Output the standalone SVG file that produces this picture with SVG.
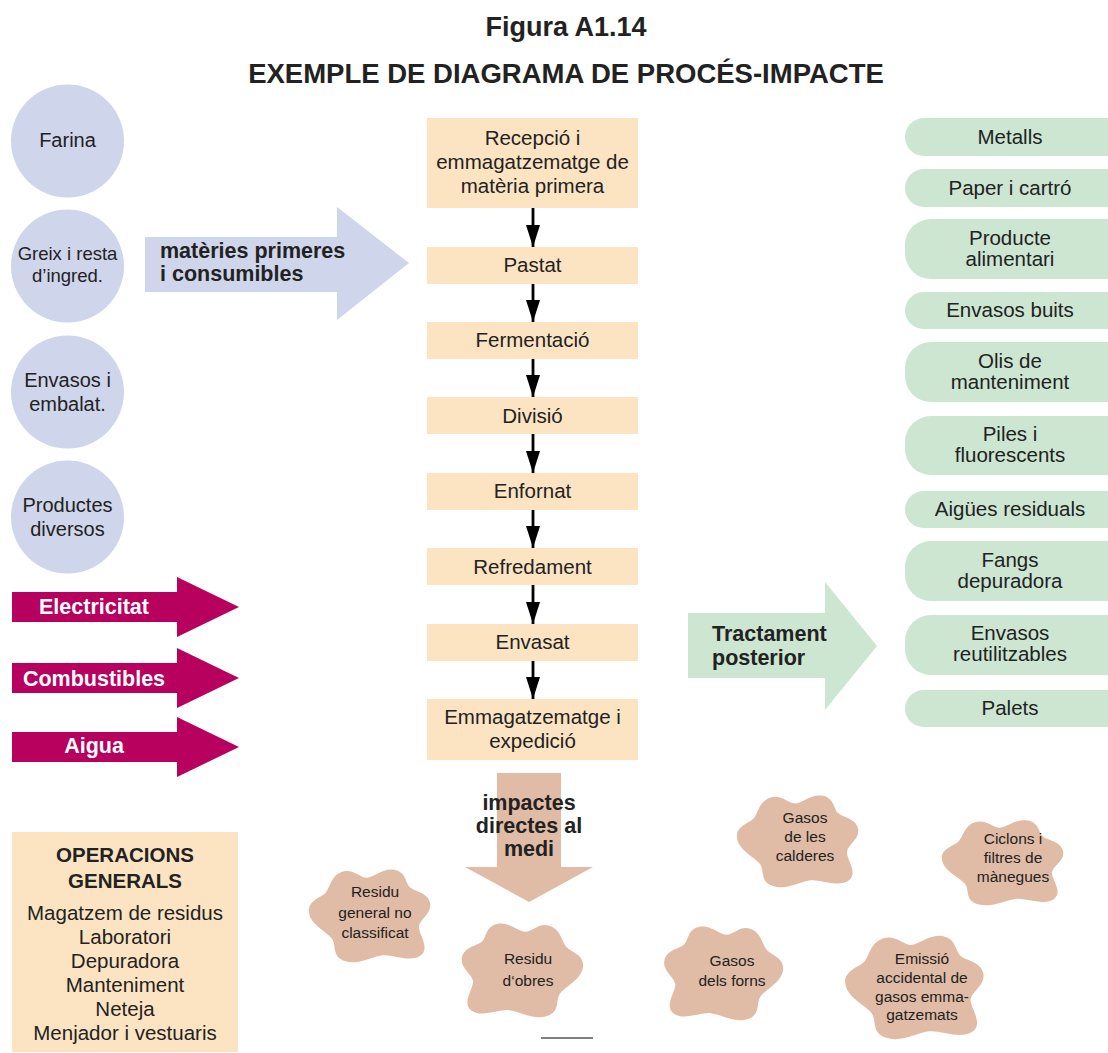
<svg xmlns="http://www.w3.org/2000/svg" xmlns:xlink="http://www.w3.org/1999/xlink" width="1108" height="1053" viewBox="0 0 1108 1053">
<style>
text{font-family:"Liberation Sans",Arial,sans-serif;fill:#222;text-anchor:middle}
.t{font-size:20.5px}
.c{font-size:20px}
.bb{font-size:21.5px;font-weight:bold}
.s{font-size:15.5px}
.w{fill:#fff}
.circ{fill:#CFD5EA}
.box{fill:#FCE4C2}
.pill{fill:#CCE6D1}
.blob{fill:#E0BBA5}
.mag{fill:#B8005F}
.con{stroke:#000;stroke-width:2.8;fill:none}
</style>
<defs>
<marker id="ah" markerWidth="22" markerHeight="14" refX="22" refY="7" orient="auto" markerUnits="userSpaceOnUse" viewBox="0 0 22 14">
<path d="M0,0 L22,7 L0,14 Z" fill="#000"/>
</marker>
<path id="blobshape" d="M35,6 C45.9,2 52.93,12.27 60,12 C67.07,11.73 76.53,1.33 88,4 C99.47,6.67 98.33,17.47 103,22 C107.67,26.53 120.6,27.33 123,38 C125.4,48.67 113.2,54.8 112,62 C110.8,69.2 123.6,84 114,92 C104.4,100 86.13,91.2 76,92 C65.87,92.8 51.6,102.53 38,98 C24.4,93.47 29.8,81.67 25,75 C20.2,68.33 3.6,60.8 2,48 C0.4,35.2 14.6,32.6 19,27 C23.4,21.4 24.1,10 35,6 Z"/>
</defs>

<text x="566" y="36" style="font-size:27px;font-weight:bold">Figura A1.14</text>
<text x="566" y="83" style="font-size:27.5px;font-weight:bold">EXEMPLE DE DIAGRAMA DE PROCÉS-IMPACTE</text>

<g id="farina"><circle cx="67.5" cy="141" r="56.5" class="circ"/><text x="67.5" y="147" class="c">Farina</text></g>
<g id="greix"><circle cx="67.5" cy="266" r="56.5" class="circ"/><text x="67.5" y="260" style="font-size:18.5px">Greix i resta</text><text x="67.5" y="282" style="font-size:18.5px">d’ingred.</text></g>
<g id="envasos-in"><circle cx="67.5" cy="392" r="56.5" class="circ"/><text x="67.5" y="387" class="c">Envasos i</text><text x="67.5" y="411" class="c">embalat.</text></g>
<g id="productes"><circle cx="67.5" cy="517" r="56.5" class="circ"/><text x="67.5" y="512" class="c">Productes</text><text x="67.5" y="536" class="c">diversos</text></g>

<g id="materies">
<path d="M145,237 H337 V207 L409,263 L337,320 V292 H145 Z" class="circ"/>
<text x="160" y="258" class="bb" style="text-anchor:start">matèries primeres</text>
<text x="160" y="281" class="bb" style="text-anchor:start">i consumibles</text>
</g>

<g id="electricitat"><path d="M12,592 H177 V577 L239,607 L177,637 V622 H12 Z" class="mag"/><text x="94" y="614" class="bb w">Electricitat</text></g>
<g id="combustibles"><path d="M12,663 H177 V648 L239,678 L177,708 V693 H12 Z" class="mag"/><text x="94" y="686" class="bb w">Combustibles</text></g>
<g id="aigua"><path d="M12,732 H177 V717 L239,747 L177,777 V762 H12 Z" class="mag"/><text x="94" y="753" class="bb w">Aigua</text></g>

<g id="p1"><rect x="427" y="118" width="211" height="90" class="box"/><text x="532.5" y="145" class="t">Recepció i</text><text x="532.5" y="169" class="t">emmagatzematge de</text><text x="532.5" y="193" class="t">matèria primera</text></g>
<g id="p2"><rect x="427" y="247" width="211" height="37" class="box"/><text x="532.5" y="272" class="t">Pastat</text></g>
<g id="p3"><rect x="427" y="322" width="211" height="37" class="box"/><text x="532.5" y="347" class="t">Fermentació</text></g>
<g id="p4"><rect x="427" y="397" width="211" height="37" class="box"/><text x="532.5" y="423" class="t">Divisió</text></g>
<g id="p5"><rect x="427" y="473" width="211" height="37" class="box"/><text x="532.5" y="498" class="t">Enfornat</text></g>
<g id="p6"><rect x="427" y="548" width="211" height="37" class="box"/><text x="532.5" y="574" class="t">Refredament</text></g>
<g id="p7"><rect x="427" y="624" width="211" height="37" class="box"/><text x="532.5" y="649" class="t">Envasat</text></g>
<g id="p8"><rect x="427" y="699" width="211" height="61" class="box"/><text x="532.5" y="724" class="t">Emmagatzematge i</text><text x="532.5" y="748" class="t">expedició</text></g>

<g id="connectors">
<line x1="533" y1="208" x2="533" y2="247" class="con" marker-end="url(#ah)"/>
<line x1="533" y1="284" x2="533" y2="322" class="con" marker-end="url(#ah)"/>
<line x1="533" y1="359" x2="533" y2="397" class="con" marker-end="url(#ah)"/>
<line x1="533" y1="434" x2="533" y2="473" class="con" marker-end="url(#ah)"/>
<line x1="533" y1="510" x2="533" y2="548" class="con" marker-end="url(#ah)"/>
<line x1="533" y1="585" x2="533" y2="624" class="con" marker-end="url(#ah)"/>
<line x1="533" y1="661" x2="533" y2="699" class="con" marker-end="url(#ah)"/>
</g>

<g id="tractament">
<path d="M688,613 H825 V582 L877,646 L825,710 V678 H688 Z" class="pill"/>
<text x="712" y="641" class="bb" style="text-anchor:start">Tractament</text>
<text x="712" y="665" class="bb" style="text-anchor:start">posterior</text>
</g>

<g id="metalls"><rect x="905" y="118" width="230" height="38" rx="19" class="pill"/><text x="1010" y="144" class="t">Metalls</text></g>
<g id="paper"><rect x="905" y="169" width="230" height="38" rx="19" class="pill"/><text x="1010" y="195" class="t">Paper i cartró</text></g>
<g id="producte"><rect x="905" y="219" width="230" height="60" rx="26" class="pill"/><text x="1010" y="245" class="t">Producte</text><text x="1010" y="266" class="t">alimentari</text></g>
<g id="envasos-buits"><rect x="905" y="292" width="230" height="37" rx="18.5" class="pill"/><text x="1010" y="317" class="t">Envasos buits</text></g>
<g id="olis"><rect x="905" y="342" width="230" height="60" rx="26" class="pill"/><text x="1010" y="368" class="t">Olis de</text><text x="1010" y="389" class="t">manteniment</text></g>
<g id="piles"><rect x="905" y="416" width="230" height="59" rx="26" class="pill"/><text x="1010" y="441" class="t">Piles i</text><text x="1010" y="462" class="t">fluorescents</text></g>
<g id="aigues"><rect x="905" y="491" width="230" height="37" rx="18.5" class="pill"/><text x="1010" y="516" class="t">Aigües residuals</text></g>
<g id="fangs"><rect x="905" y="541" width="230" height="60" rx="26" class="pill"/><text x="1010" y="567" class="t">Fangs</text><text x="1010" y="588" class="t">depuradora</text></g>
<g id="envasos-reut"><rect x="905" y="615" width="230" height="60" rx="26" class="pill"/><text x="1010" y="640" class="t">Envasos</text><text x="1010" y="661" class="t">reutilitzables</text></g>
<g id="palets"><rect x="905" y="690" width="230" height="37" rx="18.5" class="pill"/><text x="1010" y="715" class="t">Palets</text></g>

<g id="impactes">
<path d="M497,773 H561 V867 H593 L529,902 L465,867 H497 Z" class="blob"/>
<text x="529" y="810" class="bb">impactes</text>
<text x="529" y="833" class="bb">directes al</text>
<text x="529" y="856" class="bb">medi</text>
</g>

<g id="operacions">
<rect x="12" y="832" width="226" height="220" class="box"/>
<text x="125" y="862" style="font-weight:bold;font-size:20.5px">OPERACIONS</text>
<text x="125" y="888" style="font-weight:bold;font-size:20.5px">GENERALS</text>
<text x="125" y="920" class="t">Magatzem de residus</text>
<text x="125" y="944" class="t">Laboratori</text>
<text x="125" y="968" class="t">Depuradora</text>
<text x="125" y="992" class="t">Manteniment</text>
<text x="125" y="1016" class="t">Neteja</text>
<text x="125" y="1040" class="t">Menjador i vestuaris</text>
</g>

<g id="residu-general"><use xlink:href="#blobshape" class="blob" transform="translate(307,866) scale(1,0.97)"/><text x="375" y="897" class="s">Residu</text><text x="375" y="918" class="s">general no</text><text x="375" y="938" class="s">classificat</text></g>
<g id="residu-obres"><use xlink:href="#blobshape" class="blob" transform="translate(585,920) scale(-1,0.98)"/><text x="528" y="964" class="s">Residu</text><text x="528" y="986" class="s">d‘obres</text></g>
<g id="gasos-calderes"><use xlink:href="#blobshape" class="blob" transform="translate(735,792) scale(1,0.96)"/><text x="805" y="823" class="s">Gasos</text><text x="805" y="842" class="s">de les</text><text x="805" y="861" class="s">calderes</text></g>
<g id="ciclons"><use xlink:href="#blobshape" class="blob" transform="translate(940,817) scale(1,0.89)"/><text x="1013" y="844" class="s">Ciclons i</text><text x="1013" y="863" class="s">filtres de</text><text x="1013" y="882" class="s">mànegues</text></g>
<g id="gasos-forns"><use xlink:href="#blobshape" class="blob" transform="translate(785,923) scale(-0.98,0.98)"/><text x="732" y="966" class="s">Gasos</text><text x="732" y="986" class="s">dels forns</text></g>
<g id="emissio"><use xlink:href="#blobshape" class="blob" transform="translate(843,932) scale(1.14,1.08)"/><text x="922" y="964" class="s">Emissió</text><text x="922" y="983" class="s">accidental de</text><text x="922" y="1002" class="s">gasos emma-</text><text x="922" y="1020" class="s">gatzemats</text></g>

<line x1="541" y1="1038" x2="593" y2="1038" stroke="#000" stroke-width="1.2"/>
</svg>
